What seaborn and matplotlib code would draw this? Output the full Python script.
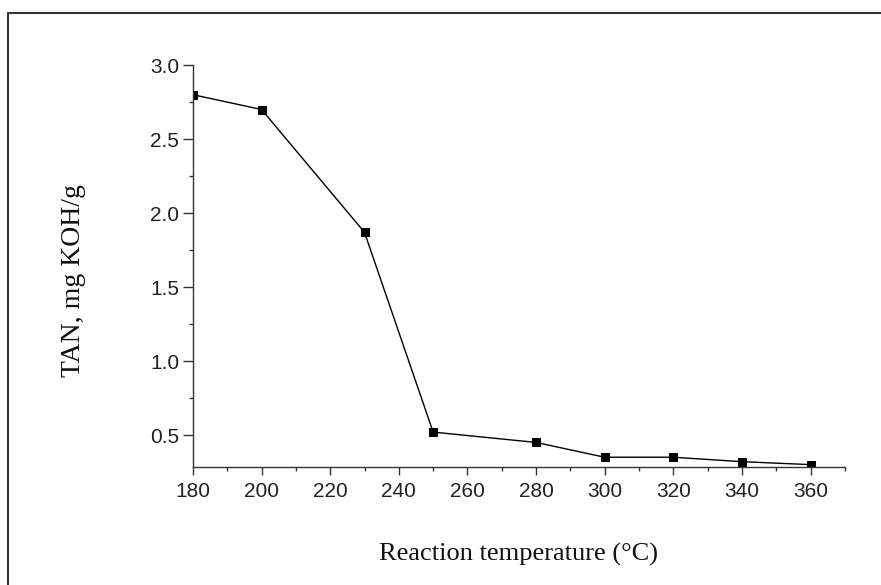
import matplotlib
matplotlib.use("Agg")
import matplotlib.pyplot as plt
import seaborn as sns
import pandas as pd
from matplotlib.ticker import MultipleLocator
from matplotlib.lines import Line2D

temperature = [180, 200, 230, 250, 280, 300, 320, 340, 360]
tan_values = [2.80, 2.70, 1.87, 0.52, 0.45, 0.35, 0.35, 0.32, 0.30]

x_label = "Reaction temperature (\u00b0C)"
y_label = "TAN, mg KOH/g"

sns.set_theme(style="ticks")
df = pd.DataFrame({"T": temperature, "TAN": tan_values})

fig = plt.figure(figsize=(8.81, 5.85), dpi=100)
ax = fig.add_axes([0.219, 0.2017, 0.740, 0.687])

sns.lineplot(data=df, x="T", y="TAN", ax=ax, color="black", linewidth=1.0,
             marker="s", markersize=6, markeredgecolor="black",
             markerfacecolor="black")

ax.set_xlim(180, 370)
ax.set_ylim(0.284, 3.0)
ax.xaxis.set_major_locator(MultipleLocator(20))
ax.xaxis.set_minor_locator(MultipleLocator(10))
ax.yaxis.set_minor_locator(MultipleLocator(0.25))
ax.set_yticks([0.5, 1.0, 1.5, 2.0, 2.5, 3.0])
ax.yaxis.set_major_formatter(matplotlib.ticker.FormatStrFormatter("%.1f"))

for s in ["top", "right"]:
    ax.spines[s].set_visible(False)
for s in ["left", "bottom"]:
    ax.spines[s].set_color("#333333")
    ax.spines[s].set_linewidth(1.0)

ax.tick_params(axis="x", which="major", direction="out", length=6, width=1,
               color="#333333", labelsize=15, labelcolor="#222222", pad=5)
ax.tick_params(axis="y", which="major", direction="out", length=7, width=1,
               color="#333333", labelsize=15, labelcolor="#222222", pad=3)
ax.tick_params(axis="both", which="minor", direction="out", length=3, width=1,
               color="#333333")
for lab in ax.get_xticklabels() + ax.get_yticklabels():
    lab.set_family("Liberation Sans")

ax.set_xlabel(x_label, family="Liberation Serif", fontsize=19, color="#111111", labelpad=30)
ax.set_ylabel(y_label, family="Liberation Serif", fontsize=20, color="#111111", labelpad=46)
ax.yaxis.label.set_y(0.463)

fig.add_artist(Line2D([8/881, 1.0], [1 - 13/585, 1 - 13/585], transform=fig.transFigure,
                      color="#333333", linewidth=1.5))
fig.add_artist(Line2D([8/881, 8/881], [0.0, 1 - 13/585], transform=fig.transFigure,
                      color="#333333", linewidth=1.5))

fig.savefig("out.png", dpi=100)
